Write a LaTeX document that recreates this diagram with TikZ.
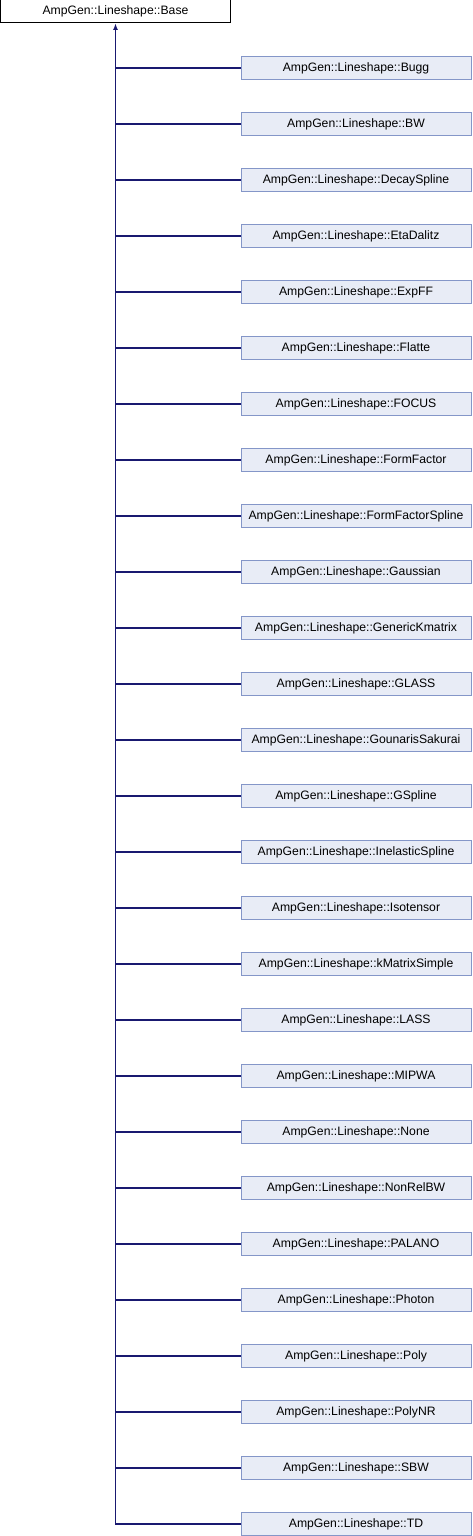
\documentclass[tikz,border=0pt]{standalone}
\usepackage{fontspec}
\setmainfont{Liberation Sans}
\usetikzlibrary{arrows.meta}
\definecolor{boxfill}{HTML}{E8ECF6}
\definecolor{boxdraw}{HTML}{8496C8}
\definecolor{edgecol}{HTML}{191970}
\tikzset{
  basebox/.style={draw=black, fill=white, line width=1pt, minimum width=230pt, minimum height=23pt, inner sep=0pt, font=\fontsize{12.2}{14}\selectfont},
  childbox/.style={draw=boxdraw, fill=boxfill, line width=1pt, minimum width=230pt, minimum height=23pt, inner sep=0pt, font=\fontsize{12.2}{14}\selectfont},
  edge/.style={draw=edgecol, line width=1.1pt},
}
\begin{document}
\begin{tikzpicture}[x=1pt,y=-1pt]
\useasboundingbox (0,0) rectangle (472,1536);
\node[basebox] (base) at (115.5,11.5) {AmpGen::Lineshape::Base};
\foreach \n [count=\i from 0] in {Bugg,BW,DecaySpline,EtaDalitz,ExpFF,Flatte,FOCUS,FormFactor,FormFactorSpline,Gaussian,GenericKmatrix,GLASS,GounarisSakurai,GSpline,InelasticSpline,Isotensor,kMatrixSimple,LASS,MIPWA,None,NonRelBW,PALANO,Photon,Poly,PolyNR,SBW,TD}{
  \node[childbox] (c\i) at (356,68+56*\i) {AmpGen::Lineshape::\n};
}
\coordinate (trunkend) at (base.south |- c26.west);
\draw[edge, {Latex[length=6.5pt,width=5pt]}-] (base.south) -- (trunkend) -- (c26.west);
\foreach \i in {0,...,25}{
  \draw[edge] (c\i.west) -- (c\i.west -| base.south);
}
\end{tikzpicture}
\end{document}
